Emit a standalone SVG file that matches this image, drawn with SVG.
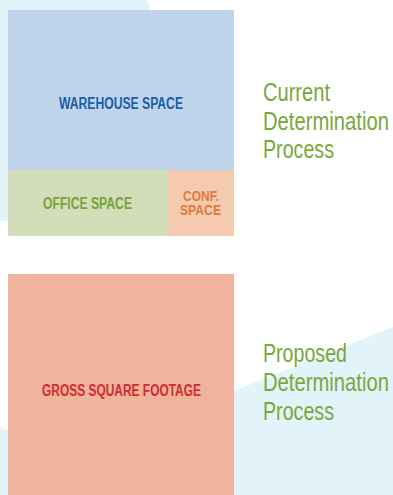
<svg xmlns="http://www.w3.org/2000/svg" width="393" height="495" viewBox="0 0 393 495">
<style>
.lbl{font-family:"Liberation Sans",Arial,sans-serif;font-weight:bold;font-size:16px;text-anchor:start}
.sm{font-size:15px}
.cap{font-family:"Liberation Sans",Arial,sans-serif;font-size:25px;fill:#79a83b}
</style>
<rect width="393" height="495" fill="#ffffff"/>
<g id="background">
<path d="M0,0 L147,0 Q152,12 160,40 L8,221 L0,221 Z" fill="#e3f3fa"/>
<path d="M0,428 L8,430 L234,391 L393,327 L393,495 L0,495 Z" fill="#e3f3fa"/>
</g>
<g id="connectors"></g>
<g id="warehouse">
<rect x="8" y="10" width="226" height="160" fill="#c0d5ec"/>
<text class="lbl" x="59" y="108.5" fill="#1a5fa8" textLength="124" lengthAdjust="spacingAndGlyphs">WAREHOUSE SPACE</text>
</g>
<g id="office">
<rect x="8" y="170" width="160" height="66" fill="#d2ddb9"/>
<text class="lbl" x="43" y="208.5" fill="#77a43a" textLength="89" lengthAdjust="spacingAndGlyphs">OFFICE SPACE</text>
</g>
<g id="conf">
<rect x="168" y="170" width="66" height="66" fill="#f4cbb0"/>
<text class="lbl sm" x="183" y="200.5" fill="#e07b39" textLength="36" lengthAdjust="spacingAndGlyphs">CONF.</text>
<text class="lbl sm" x="180" y="214.5" fill="#e07b39" textLength="41" lengthAdjust="spacingAndGlyphs">SPACE</text>
</g>
<g id="current-label">
<text class="cap" x="263" y="101" textLength="67" lengthAdjust="spacingAndGlyphs">Current</text>
<text class="cap" x="263" y="130" textLength="126" lengthAdjust="spacingAndGlyphs">Determination</text>
<text class="cap" x="263" y="158" textLength="71" lengthAdjust="spacingAndGlyphs">Process</text>
</g>
<g id="gross">
<rect x="8" y="274" width="226" height="221" fill="#efb39e"/>
<text class="lbl" x="42" y="395.5" fill="#d42a2e" textLength="159" lengthAdjust="spacingAndGlyphs">GROSS SQUARE FOOTAGE</text>
</g>
<g id="proposed-label">
<text class="cap" x="263" y="362" textLength="84" lengthAdjust="spacingAndGlyphs">Proposed</text>
<text class="cap" x="263" y="391" textLength="126" lengthAdjust="spacingAndGlyphs">Determination</text>
<text class="cap" x="263" y="420" textLength="71" lengthAdjust="spacingAndGlyphs">Process</text>
</g>
</svg>
